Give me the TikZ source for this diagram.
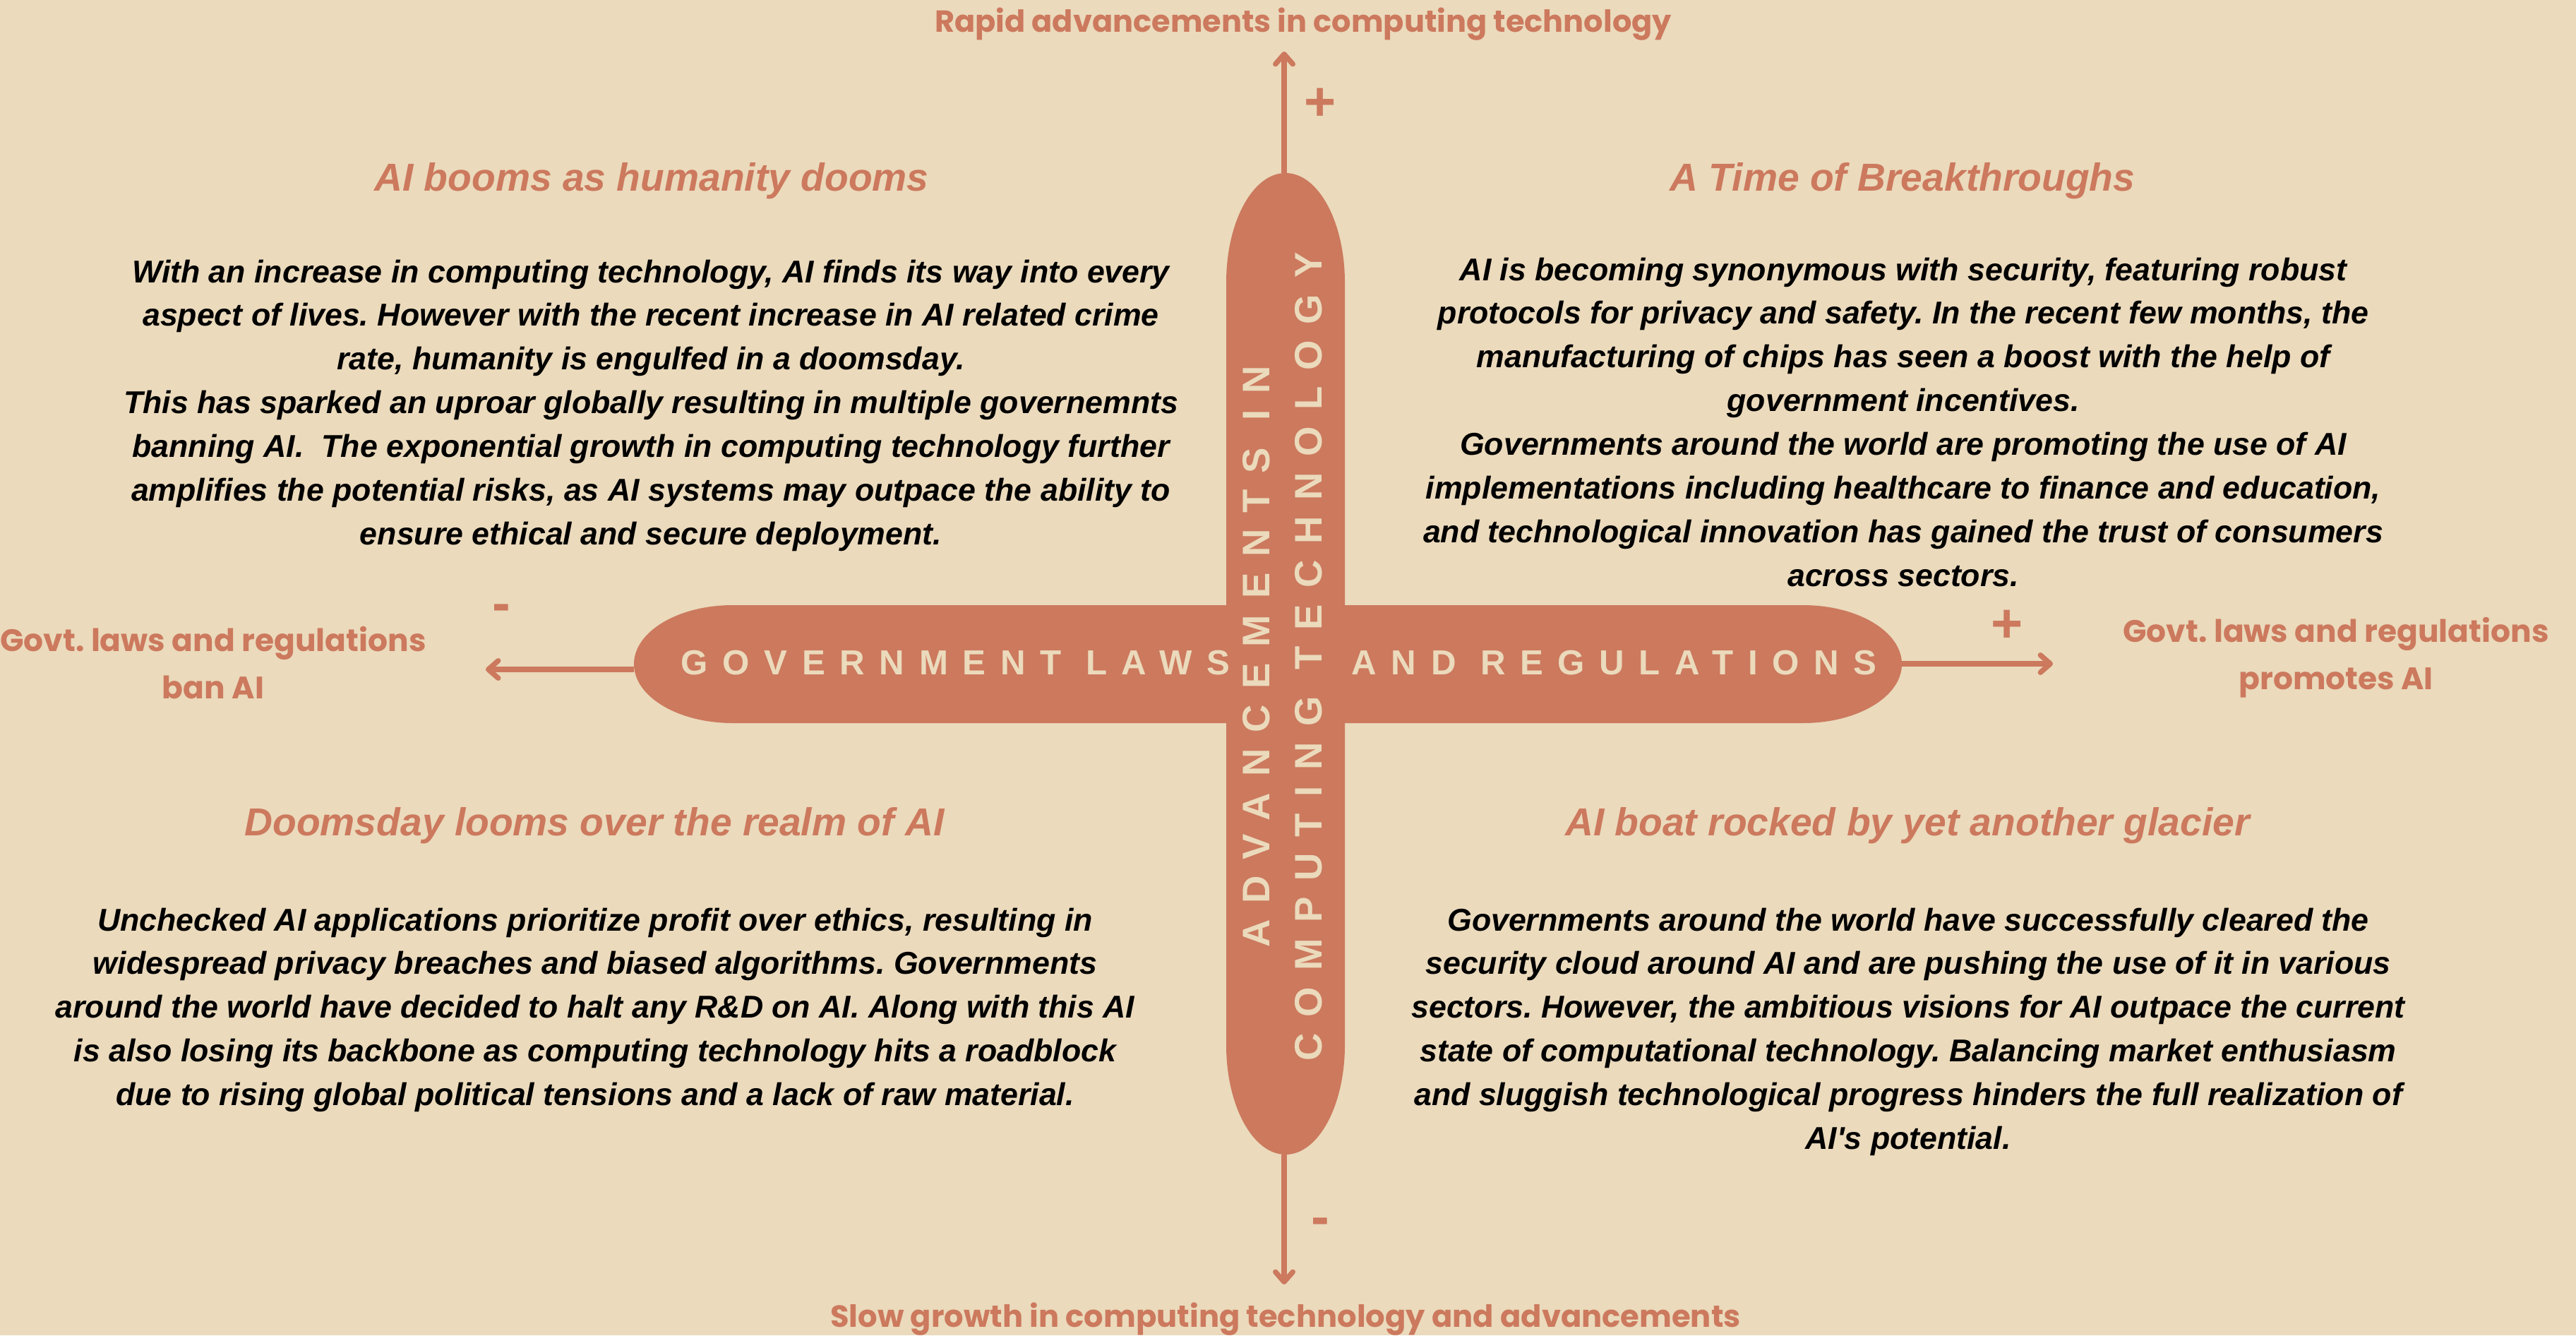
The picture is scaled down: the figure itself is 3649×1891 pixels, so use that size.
\documentclass[tikz,border=0pt]{standalone}
\usepackage{fontspec}
\setmainfont{Liberation Sans}
\newfontfamily\axisfont{Poppins}
\newfontfamily\pillfont{Liberation Sans}[LetterSpace=42]
\usetikzlibrary{arrows.meta}
\definecolor{sand}{RGB}{235,218,188}
\definecolor{clay}{RGB}{204,121,94}
\frenchspacing

\begin{document}
\begin{tikzpicture}[x=0.01cm, y=-0.01cm,
  title/.style={clay, font=\fontsize{15.7}{19}\selectfont\bfseries\itshape, inner sep=0, anchor=base},
  body/.style={font=\fontsize{12.7}{17.6}\selectfont\bfseries\itshape, align=center, inner sep=0, anchor=north},
  axislabel/.style={clay, font=\axisfont\bfseries\fontsize{12.5}{18.8}\selectfont, align=center, inner sep=0},
  pilltext/.style={sand, font=\pillfont\bfseries\fontsize{14}{21}\selectfont, inner sep=0},
  sign/.style={clay, font=\bfseries\fontsize{22}{22}\selectfont, inner sep=0},
  axisarrow/.style={clay, line width=2.1pt, -{Straight Barb[length=4pt,width=7pt,round]}}]
\fill[sand] (0,0) rectangle (3649,1891);
\useasboundingbox (0,0) rectangle (3649,1891);

% the two bars
\fill[clay] (1038,857) -- (2554,857) arc[start angle=-90,end angle=90,x radius=140,y radius=83.5]
  -- (1038,1024) arc[start angle=90,end angle=270,x radius=140,y radius=83.5] -- cycle;
\fill[clay] (1905,400) -- (1905,1480) arc[start angle=0,end angle=180,x radius=84,y radius=155]
  -- (1737,400) arc[start angle=180,end angle=360,x radius=84,y radius=155] -- cycle;

\node[pilltext, anchor=base east] (govleft) at (1743,955) {GOVERNMENT LAWS};
\node[pilltext, anchor=base west] (govright) at (1914,955) {AND REGULATIONS};
\node[pilltext, rotate=90, align=center, font=\pillfont\bfseries\fontsize{15.5}{21}\selectfont] (advtext) at (1817,930) {ADVANCEMENTS IN\\COMPUTING TECHNOLOGY};

% axes
\coordinate (upfrom) at (1819,245);
\coordinate (upto) at (1819,73);
\coordinate (downfrom) at (1819,1635);
\coordinate (downto) at (1819,1819);
\coordinate (leftfrom) at (898,948);
\coordinate (leftto) at (688,948);
\coordinate (rightfrom) at (2694,940);
\coordinate (rightto) at (2908,940);
\draw[axisarrow] (upfrom) -- (upto);
\draw[axisarrow] (downfrom) -- (downto);
\draw[axisarrow] (leftfrom) -- (leftto);
\draw[axisarrow] (rightfrom) -- (rightto);

\node[sign] (plustop) at (1870,148) {+};
\node[sign] (minusbottom) at (1870,1737) {-};
\node[sign] (minusleft) at (710,868) {-};
\node[sign] (plusright) at (2843,887) {+};

\node[axislabel, anchor=base, font=\axisfont\bfseries\fontsize{12.25}{18.8}\selectfont] (rapid) at (1846,46) {Rapid advancements in computing technology};
\node[axislabel, anchor=base, font=\axisfont\bfseries\fontsize{12.3}{18.8}\selectfont] (slow) at (1821,1879) {Slow growth in computing technology and advancements};
\node[axislabel, anchor=north] (ban) at (302,887) {Govt. laws and regulations\\ban AI};
\node[axislabel, anchor=north] (promote) at (3309,874) {Govt. laws and regulations\\promotes AI};

% quadrants
\node[title] (tltitle) at (923,271) {AI booms as humanity dooms};
\node[body] (tlbody) at (922,367) {With an increase in computing technology, AI finds its way into every\\
aspect of lives. However with the recent increase in AI related crime\\
rate, humanity is engulfed in a doomsday.\\
This has sparked an uproar globally resulting in multiple governemnts\\
banning AI.\ \ The exponential growth in computing technology further\\
amplifies the potential risks, as AI systems may outpace the ability to\\
ensure ethical and secure deployment.};

\node[title] (trtitle) at (2695,271) {A Time of Breakthroughs};
\node[body] (trbody) at (2696,364) {AI is becoming synonymous with security, featuring robust\\
protocols for privacy and safety. In the recent few months, the\\
manufacturing of chips has seen a boost with the help of\\
government incentives.\\
Governments around the world are promoting the use of AI\\
implementations including healthcare to finance and education,\\
and technological innovation has gained the trust of consumers\\
across sectors.};

\node[title] (bltitle) at (842,1183) {Doomsday looms over the realm of AI};
\node[body] (blbody) at (843,1285) {Unchecked AI applications prioritize profit over ethics, resulting in\\
widespread privacy breaches and biased algorithms. Governments\\
around the world have decided to halt any R\&D on AI. Along with this AI\\
is also losing its backbone as computing technology hits a roadblock\\
due to rising global political tensions and a lack of raw material.};

\node[title] (brtitle) at (2702,1183) {AI boat rocked by yet another glacier};
\node[body] (brbody) at (2703,1285) {Governments around the world have successfully cleared the\\
security cloud around AI and are pushing the use of it in various\\
sectors. However, the ambitious visions for AI outpace the current\\
state of computational technology. Balancing market enthusiasm\\
and sluggish technological progress hinders the full realization of\\
AI\textquotesingle s potential.};
\end{tikzpicture}
\end{document}
